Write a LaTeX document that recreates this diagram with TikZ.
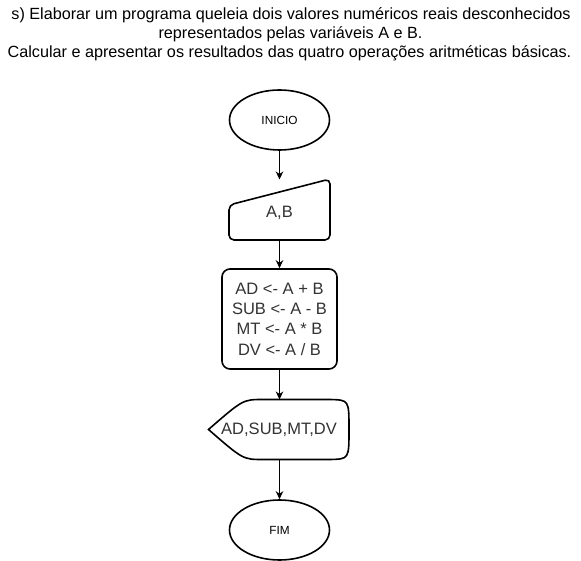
\documentclass[tikz,border=0pt]{standalone}
\usepackage{fontspec}
\setmainfont{Liberation Sans}
\usetikzlibrary{arrows.meta,shapes.geometric}
\definecolor{txtgrey}{HTML}{333333}
\tikzset{
  shapeline/.style={draw=black,line width=1.6pt,fill=white},
  flowarrow/.style={draw=black,line width=1.1pt,-{Stealth[length=8pt,width=7.5pt,inset=2.5pt]}},
  termtext/.style={font=\fontsize{11.8}{14}\selectfont,text=black},
  bodytext/.style={font=\fontsize{16.5}{20.3}\selectfont,text=txtgrey,align=center},
  titletext/.style={font=\fontsize{16.2}{19}\selectfont,text=black,anchor=base}
}
\begin{document}
\begin{tikzpicture}[x=1pt,y=-1pt]
\useasboundingbox (0,0) rectangle (581,561);
% title
\node[titletext] (t1) at (291,19.3) {s) Elaborar um programa queleia dois valores numéricos reais desconhecidos};
\node[titletext] (t2) at (290.5,38.7) {representados pelas variáveis A e B.};
\node[titletext] (t3) at (289.5,58) {Calcular e apresentar os resultados das quatro operações aritméticas básicas.};
% start
\node[shapeline,ellipse,minimum width=100pt,minimum height=60pt,inner sep=0pt,termtext] (ini) at (279.5,120) {INICIO};
% manual input
\draw[shapeline,rounded corners=5pt] (229,205) -- (330,179) -- (330,240) -- (229,240) -- cycle;
\node[bodytext] (ab) at (279.5,213) {A,B};
\coordinate (abtop) at (279.5,179.5);
\coordinate (abbot) at (279.5,240);
% process
\node[shapeline,rounded corners=8pt,minimum width=115pt,minimum height=100pt,inner sep=0pt,bodytext] (proc) at (279.5,319) {AD <- A + B\\SUB <- A - B\\MT <- A * B\\DV <- A / B};
% display
\draw[shapeline] (208.5,429.5) .. controls (243,399.5) .. (263,399.5) -- (330,399.5) .. controls (349,400) .. (349,429.5) .. controls (349,459) .. (330,459.5) -- (263,459.5) .. controls (243,459.5) .. (208.5,429.5) -- cycle;
\node[bodytext] (disp) at (279,429.5) {AD,SUB,MT,DV};
\coordinate (disptop) at (279.5,399.5);
\coordinate (dispbot) at (279.5,459.5);
% end
\node[shapeline,ellipse,minimum width=100pt,minimum height=60pt,inner sep=0pt,termtext] (fim) at (279.5,530) {FIM};
% connectors
\draw[flowarrow] (ini.south) -- (abtop);
\draw[flowarrow] (abbot) -- (proc.north);
\draw[flowarrow] (proc.south) -- (disptop);
\draw[flowarrow] (dispbot) -- (fim.north);
\end{tikzpicture}
\end{document}
